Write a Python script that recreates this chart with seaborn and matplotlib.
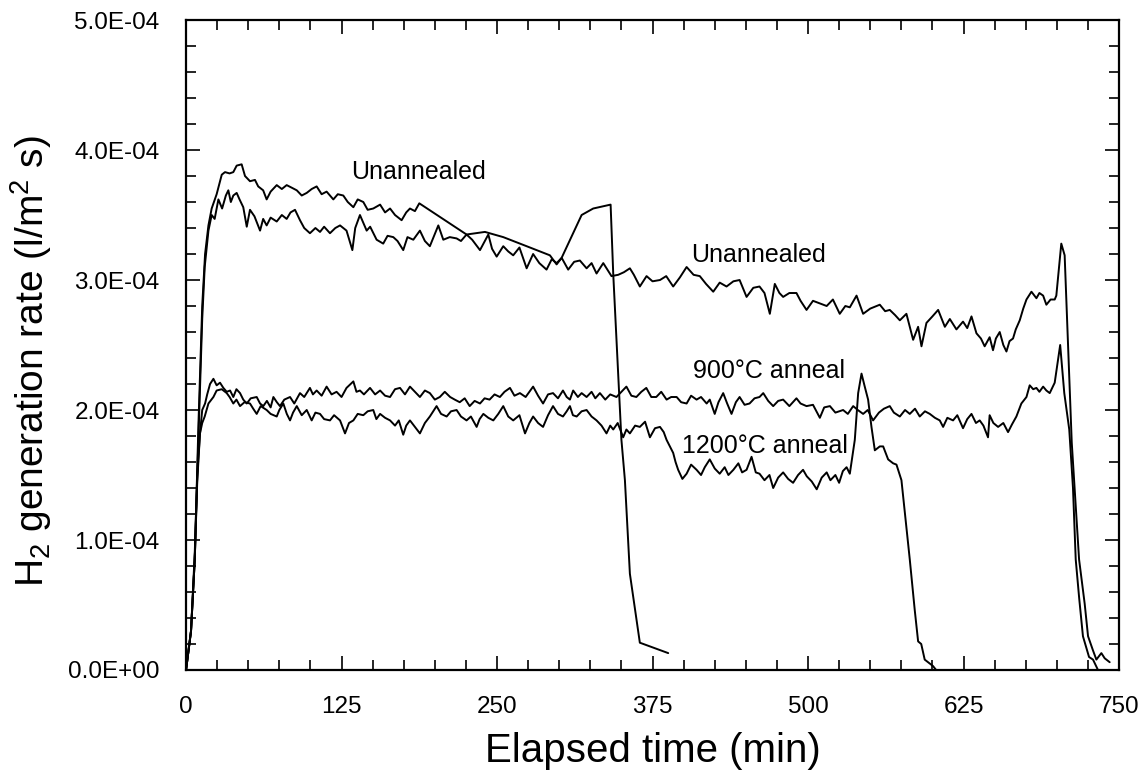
import numpy as np
import pandas as pd
import matplotlib
matplotlib.use("Agg")
import matplotlib.pyplot as plt
from matplotlib.ticker import MultipleLocator, FuncFormatter
import seaborn as sns

# ---------------- data (rates in units of 1e-4 l/m^2 s) ----------------
unann1_t = [0, 4, 7, 10, 13, 15.3, 18, 20.6, 24.6, 28.7, 31.3, 35, 38, 40.7, 44.7, 47.4, 51.4,
            55.4, 58, 62, 64.8, 68, 72.9, 77, 80.9, 85, 89, 93, 97, 101, 105, 109, 113, 118.4,
            122, 126.4, 130, 134.5, 138, 142.5, 146, 150.5, 156, 160, 164, 168, 173.3, 177, 180,
            184, 187.5, 225.5, 240.3, 255, 273.8, 292.5, 297.9, 301.9, 318, 327.3, 341.3, 343.4,
            350, 352.8, 356.8, 364.8, 387.6]
unann1_v = [0, 0.3, 0.85, 1.9, 2.8, 3.2, 3.42, 3.55, 3.66, 3.81, 3.83, 3.82, 3.83, 3.88, 3.89,
            3.80, 3.76, 3.77, 3.72, 3.69, 3.62, 3.68, 3.73, 3.70, 3.73, 3.71, 3.69, 3.65, 3.67,
            3.70, 3.72, 3.66, 3.68, 3.62, 3.66, 3.65, 3.60, 3.56, 3.62, 3.60, 3.54, 3.55, 3.58,
            3.52, 3.55, 3.50, 3.46, 3.52, 3.55, 3.53, 3.59, 3.35, 3.37, 3.33, 3.26, 3.19, 3.12,
            3.17, 3.50, 3.55, 3.58, 3.05, 1.77, 1.46, 0.74, 0.21, 0.13]

unann2_t = [0, 4, 7, 10, 13, 15, 18, 20.6, 23, 26, 29, 32, 34, 36, 38, 40.7, 43, 46, 48.8, 51.4,
            55, 59.5, 62, 64.8, 68, 72.9, 77, 80.9, 84, 87.6, 91.6, 95, 99.6, 104, 107.7, 111,
            115.7, 120, 123.8, 129, 133.7, 136, 139.8, 145.2, 148, 153.2, 158.5, 162, 166.6, 170,
            174.6, 178, 182.7, 188, 192, 196, 202.8, 206.8, 212, 217.5, 221, 225.5, 230, 236.3,
            243, 246, 249.7, 255, 259, 263, 268, 273.8, 279, 284, 289.8, 294, 297.9, 302, 307.2,
            312, 316.6, 322, 326, 330, 335.4, 342, 347.4, 352, 356.8, 360, 364.8, 370.2, 375,
            381, 386, 391.6, 397, 402.4, 408, 413, 418, 423.8, 429, 434.5, 440, 445, 450.6, 456,
            461, 465, 469.3, 473.3, 477, 480, 485, 490.7, 494, 498.8, 504, 509.5, 515, 520,
            525.5, 530, 533.6, 539, 544.3, 550, 557.7, 562, 565.7, 570, 573.8, 579.1, 584.5,
            588.5, 591.2, 595.2, 600, 604.6, 610, 614, 619.3, 624.6, 628, 631.4, 635.4, 639, 642,
            646, 648.7, 651, 654.1, 657, 659.5, 662, 664.8, 667, 670.2, 673, 675.6, 679.6, 683.6,
            686, 689, 691.6, 695, 698.3, 699.6, 703.6, 706.3, 712, 717.9, 722.4, 725.1, 729.1,
            731.8, 735.8, 738.5, 742.5]
unann2_v = [0, 0.3, 0.85, 1.8, 2.7, 3.1, 3.38, 3.5, 3.47, 3.62, 3.55, 3.65, 3.69, 3.60, 3.65,
            3.67, 3.62, 3.56, 3.41, 3.54, 3.49, 3.38, 3.47, 3.42, 3.48, 3.45, 3.50, 3.47, 3.52,
            3.54, 3.46, 3.40, 3.36, 3.40, 3.37, 3.41, 3.36, 3.40, 3.42, 3.38, 3.23, 3.40, 3.50,
            3.38, 3.41, 3.31, 3.28, 3.34, 3.33, 3.30, 3.23, 3.33, 3.31, 3.38, 3.30, 3.26, 3.42,
            3.31, 3.33, 3.32, 3.30, 3.35, 3.31, 3.23, 3.35, 3.24, 3.18, 3.26, 3.22, 3.19, 3.25,
            3.09, 3.20, 3.13, 3.08, 3.16, 3.13, 3.17, 3.08, 3.14, 3.15, 3.09, 3.13, 3.05, 3.13,
            3.03, 3.04, 3.06, 3.09, 3.04, 2.95, 3.03, 2.99, 3.00, 3.03, 2.95, 3.02, 3.10, 3.04,
            3.03, 2.97, 2.91, 2.98, 2.95, 2.99, 3.00, 2.87, 2.94, 2.95, 2.90, 2.74, 2.97, 2.90,
            2.87, 2.90, 2.90, 2.84, 2.77, 2.84, 2.82, 2.80, 2.85, 2.74, 2.80, 2.79, 2.88, 2.74,
            2.78, 2.81, 2.76, 2.77, 2.73, 2.69, 2.74, 2.54, 2.64, 2.49, 2.67, 2.72, 2.77, 2.64,
            2.70, 2.62, 2.68, 2.63, 2.72, 2.59, 2.55, 2.49, 2.56, 2.46, 2.55, 2.60, 2.50, 2.45,
            2.53, 2.55, 2.62, 2.69, 2.78, 2.85, 2.91, 2.86, 2.90, 2.88, 2.81, 2.85, 2.85, 2.88,
            3.28, 3.19, 1.75, 0.85, 0.51, 0.26, 0.15, 0.08, 0.13, 0.09, 0.06]

a900_t = [0, 4, 7, 9, 11.2, 13, 15.3, 17, 19.3, 22, 24.6, 27.3, 30, 32.7, 35.4, 38, 40.5, 43.4,
          46, 48.8, 52, 56.8, 59.5, 62.1, 65, 68, 70.2, 73, 75.5, 79, 83.6, 87, 91.6, 95, 99.6,
          102, 105, 109, 113, 117, 121, 125, 129, 134.5, 137, 139.8, 143, 147.9, 152, 156, 160,
          164, 168, 172, 176, 180, 184, 188, 192, 196, 200, 204, 208, 212.3, 216, 220, 224, 228,
          232, 236.3, 240, 244, 248, 252.3, 256, 260.4, 264, 268.4, 273, 279, 283, 287, 291, 295,
          299, 303, 306, 308.6, 311.2, 315, 318, 322, 326, 329, 332.7, 337, 341, 346, 350, 354,
          358, 362, 366, 370, 374, 378, 382, 386.3, 390, 394.4, 398, 402.4, 406, 410.4, 414,
          418.5, 421, 425, 428, 431.8, 435, 438.5, 442, 445, 449, 453, 457, 461, 464, 468, 472,
          476, 480, 485, 490.7, 494, 498.8, 504, 509.5, 513, 517.6, 522, 528.2, 532, 536.3, 540,
          544.3, 548, 552.3, 557, 561, 565.7, 569, 573.8, 578, 581.8, 586, 589.8, 594, 597.9,
          602, 605.9, 608.6, 612, 616.6, 620, 624.6, 628, 631.4, 635, 638, 641, 644.7, 646, 649,
          652.8, 657, 660.8, 664, 667.5, 671.5, 675.6, 678.2, 681, 683.6, 686, 689, 691.6, 694.3,
          698.3, 702.7, 706, 710, 713, 715.2, 718, 721, 725.9, 729.1, 733.1]
a900_v = [0, 0.3, 0.9, 1.5, 1.82, 2.0, 2.05, 2.12, 2.2, 2.24, 2.19, 2.21, 2.17, 2.14, 2.15, 2.10,
          2.16, 2.13, 2.08, 2.05, 2.09, 2.10, 2.05, 2.03, 2.07, 2.02, 2.10, 2.06, 2.03, 2.08,
          2.10, 2.05, 2.13, 2.10, 2.17, 2.12, 2.15, 2.11, 2.18, 2.12, 2.14, 2.10, 2.17, 2.22,
          2.14, 2.15, 2.12, 2.17, 2.12, 2.15, 2.11, 2.10, 2.16, 2.17, 2.12, 2.18, 2.14, 2.10,
          2.15, 2.13, 2.08, 2.10, 2.14, 2.10, 2.08, 2.06, 2.09, 2.03, 2.07, 2.05, 2.09, 2.08,
          2.12, 2.10, 2.14, 2.17, 2.11, 2.13, 2.10, 2.18, 2.11, 2.05, 2.12, 2.13, 2.09, 2.15,
          2.10, 2.08, 2.15, 2.10, 2.13, 2.10, 2.14, 2.09, 2.13, 2.08, 2.12, 2.10, 2.14, 2.18,
          2.11, 2.10, 2.14, 2.17, 2.10, 2.10, 2.14, 2.08, 2.10, 2.10, 2.06, 2.05, 2.11, 2.08,
          2.10, 2.05, 2.08, 1.97, 2.06, 2.13, 2.05, 1.97, 2.06, 2.10, 2.04, 2.05, 2.09, 2.10,
          2.13, 2.07, 2.03, 2.07, 2.08, 2.03, 2.09, 2.05, 2.03, 2.04, 1.94, 2.02, 2.03, 1.98,
          2.00, 1.97, 2.03, 2.00, 1.97, 2.00, 1.92, 1.98, 2.01, 2.03, 1.98, 1.95, 2.00, 1.97,
          2.01, 1.95, 1.99, 1.97, 1.94, 1.92, 1.87, 1.94, 1.92, 1.96, 1.86, 1.93, 1.97, 1.90,
          1.92, 1.88, 1.79, 1.96, 1.90, 1.87, 1.90, 1.83, 1.89, 1.95, 2.05, 2.10, 2.19, 2.16,
          2.17, 2.14, 2.18, 2.15, 2.13, 2.21, 2.50, 2.13, 1.85, 1.40, 0.85, 0.55, 0.26, 0.10,
          0.08, 0.0]

a1200_t = [0, 4, 7, 9, 11.2, 13, 15, 18, 22, 24.6, 28.7, 32.7, 35, 38, 40.5, 43.4, 47, 51.4, 54,
           56.8, 60, 64.8, 68, 72.9, 75, 78.2, 81, 83.6, 86, 89, 93, 97, 101, 104, 107.7, 111,
           115.7, 119, 123.8, 127.8, 131, 134.5, 138, 142.5, 146, 150.5, 153, 156, 160, 164, 168,
           171, 174.6, 177, 180, 184, 188, 192, 196, 201.4, 205, 209.5, 213, 217.5, 221, 225.5,
           229, 233.6, 236, 239, 243, 247, 251, 255, 259, 263, 268, 272.5, 276, 279, 283, 287,
           291, 295, 299, 303, 306, 308.6, 311, 314, 318, 322, 326, 330, 334, 338, 341, 343.4,
           347, 351.4, 354, 356.8, 361, 364.8, 369, 372.9, 377, 381, 384, 386.3, 389, 391.6,
           393.5, 395.6, 399, 402.4, 406, 410.4, 414, 417, 421, 425, 429, 433, 436, 440, 444,
           447, 450.6, 454.6, 458, 461, 465, 469, 472, 476, 480, 484, 488, 492, 496, 499, 503,
           507, 511, 515, 518, 522, 525, 528, 531, 533.6, 537.6, 540.3, 543, 545.6, 548.3, 551,
           553.7, 557.7, 560.4, 564.4, 568.4, 571.1, 575.1, 578.5, 581.8, 585.8, 588.5, 591,
           593.8, 597.9, 600.5, 603]
a1200_v = [0, 0.3, 0.85, 1.45, 1.82, 1.9, 1.95, 2.05, 2.10, 2.15, 2.16, 2.13, 2.10, 2.05, 2.08,
           2.03, 2.06, 2.05, 2.01, 1.97, 2.03, 2.00, 1.97, 1.95, 2.00, 2.05, 1.97, 1.92, 1.98,
           2.03, 1.96, 2.00, 1.92, 1.98, 1.97, 1.93, 1.92, 1.96, 1.92, 1.82, 1.90, 1.92, 1.97,
           1.96, 1.99, 2.00, 1.93, 1.97, 1.94, 1.92, 1.88, 1.92, 1.81, 1.88, 1.92, 1.87, 1.82,
           1.90, 1.95, 2.03, 1.97, 1.95, 1.99, 2.00, 1.95, 1.92, 1.95, 1.87, 1.93, 1.97, 1.94,
           1.92, 1.97, 2.03, 1.95, 1.92, 1.96, 1.82, 1.90, 1.95, 1.90, 1.87, 1.96, 2.03, 1.97,
           1.95, 1.99, 2.03, 1.96, 1.95, 1.99, 2.00, 1.95, 1.92, 1.88, 1.82, 1.88, 1.85, 1.90,
           1.79, 1.85, 1.82, 1.88, 1.87, 1.91, 1.79, 1.86, 1.87, 1.83, 1.77, 1.72, 1.67, 1.60,
           1.54, 1.47, 1.51, 1.58, 1.54, 1.50, 1.56, 1.62, 1.55, 1.51, 1.56, 1.50, 1.54, 1.59,
           1.52, 1.54, 1.64, 1.52, 1.51, 1.46, 1.50, 1.40, 1.48, 1.52, 1.47, 1.44, 1.50, 1.54,
           1.49, 1.45, 1.39, 1.48, 1.52, 1.46, 1.50, 1.44, 1.53, 1.56, 1.51, 1.77, 2.13, 2.28,
           2.18, 2.08, 1.87, 1.69, 1.72, 1.72, 1.62, 1.59, 1.58, 1.46, 1.15, 0.85, 0.46, 0.22,
           0.20, 0.08, 0.05, 0.03, 0.0]

SCALE = 1e-4
x_ticks = [0, 125, 250, 375, 500, 625, 750]
y_ticks = [0.0, 1e-4, 2e-4, 3e-4, 4e-4, 5e-4]

labels_text = ["Unannealed", "Unannealed", "900\u00b0C anneal", "1200\u00b0C anneal"]
labels_pos = [(187, 3.83), (460, 3.19), (469, 2.30), (465, 1.72)]

# ---------------- plotting ----------------
sns.set_style("ticks")
plt.rcParams["font.family"] = ["Liberation Sans", "DejaVu Sans"]
plt.rcParams["mathtext.fontset"] = "custom"
plt.rcParams["mathtext.rm"] = "Liberation Sans"
plt.rcParams["mathtext.it"] = "Liberation Sans"
plt.rcParams["text.color"] = "black"
plt.rcParams["axes.labelcolor"] = "black"
plt.rcParams["xtick.color"] = "black"
plt.rcParams["ytick.color"] = "black"

fig = plt.figure(figsize=(11.47, 7.76), dpi=100)
ax = fig.add_axes([0.1622, 0.1366, 0.8134, 0.8376])

series = [(unann1_t, unann1_v), (unann2_t, unann2_v), (a900_t, a900_v), (a1200_t, a1200_v)]
for i, (t, v) in enumerate(series):
    df = pd.DataFrame({"t": t, "rate": np.array(v) * SCALE})
    sns.lineplot(data=df, x="t", y="rate", ax=ax, color="black", lw=1.4,
                 estimator=None, sort=False, legend=False)

for txt, (x, y) in zip(labels_text, labels_pos):
    ax.text(x, y * SCALE, txt, fontsize=18, ha="center", va="center", color="black")

ax.set_xlim(0, 750)
ax.set_ylim(0, 5e-4)
ax.set_xticks(x_ticks)
ax.set_yticks(y_ticks)
ax.xaxis.set_minor_locator(MultipleLocator(25))
ax.yaxis.set_minor_locator(MultipleLocator(2e-5))
ax.yaxis.set_major_formatter(FuncFormatter(lambda v, _: f"{v:.1E}"))
ax.tick_params(which="both", direction="in", top=True, right=True, width=1.2,
               color="black", labelcolor="black")
ax.tick_params(which="major", length=10, labelsize=17.5, pad=19)
ax.tick_params(which="minor", length=7)
for s in ax.spines.values():
    s.set_linewidth(1.6)
    s.set_color("black")

ax.set_xlabel("Elapsed time (min)", fontsize=29, labelpad=10, color="black")
ax.set_ylabel("H$_2$ generation rate (l/m$^2$ s)", fontsize=28, color="black")
ax.yaxis.set_label_coords(-0.142, 0.475)

fig.savefig("out.png", dpi=100)
